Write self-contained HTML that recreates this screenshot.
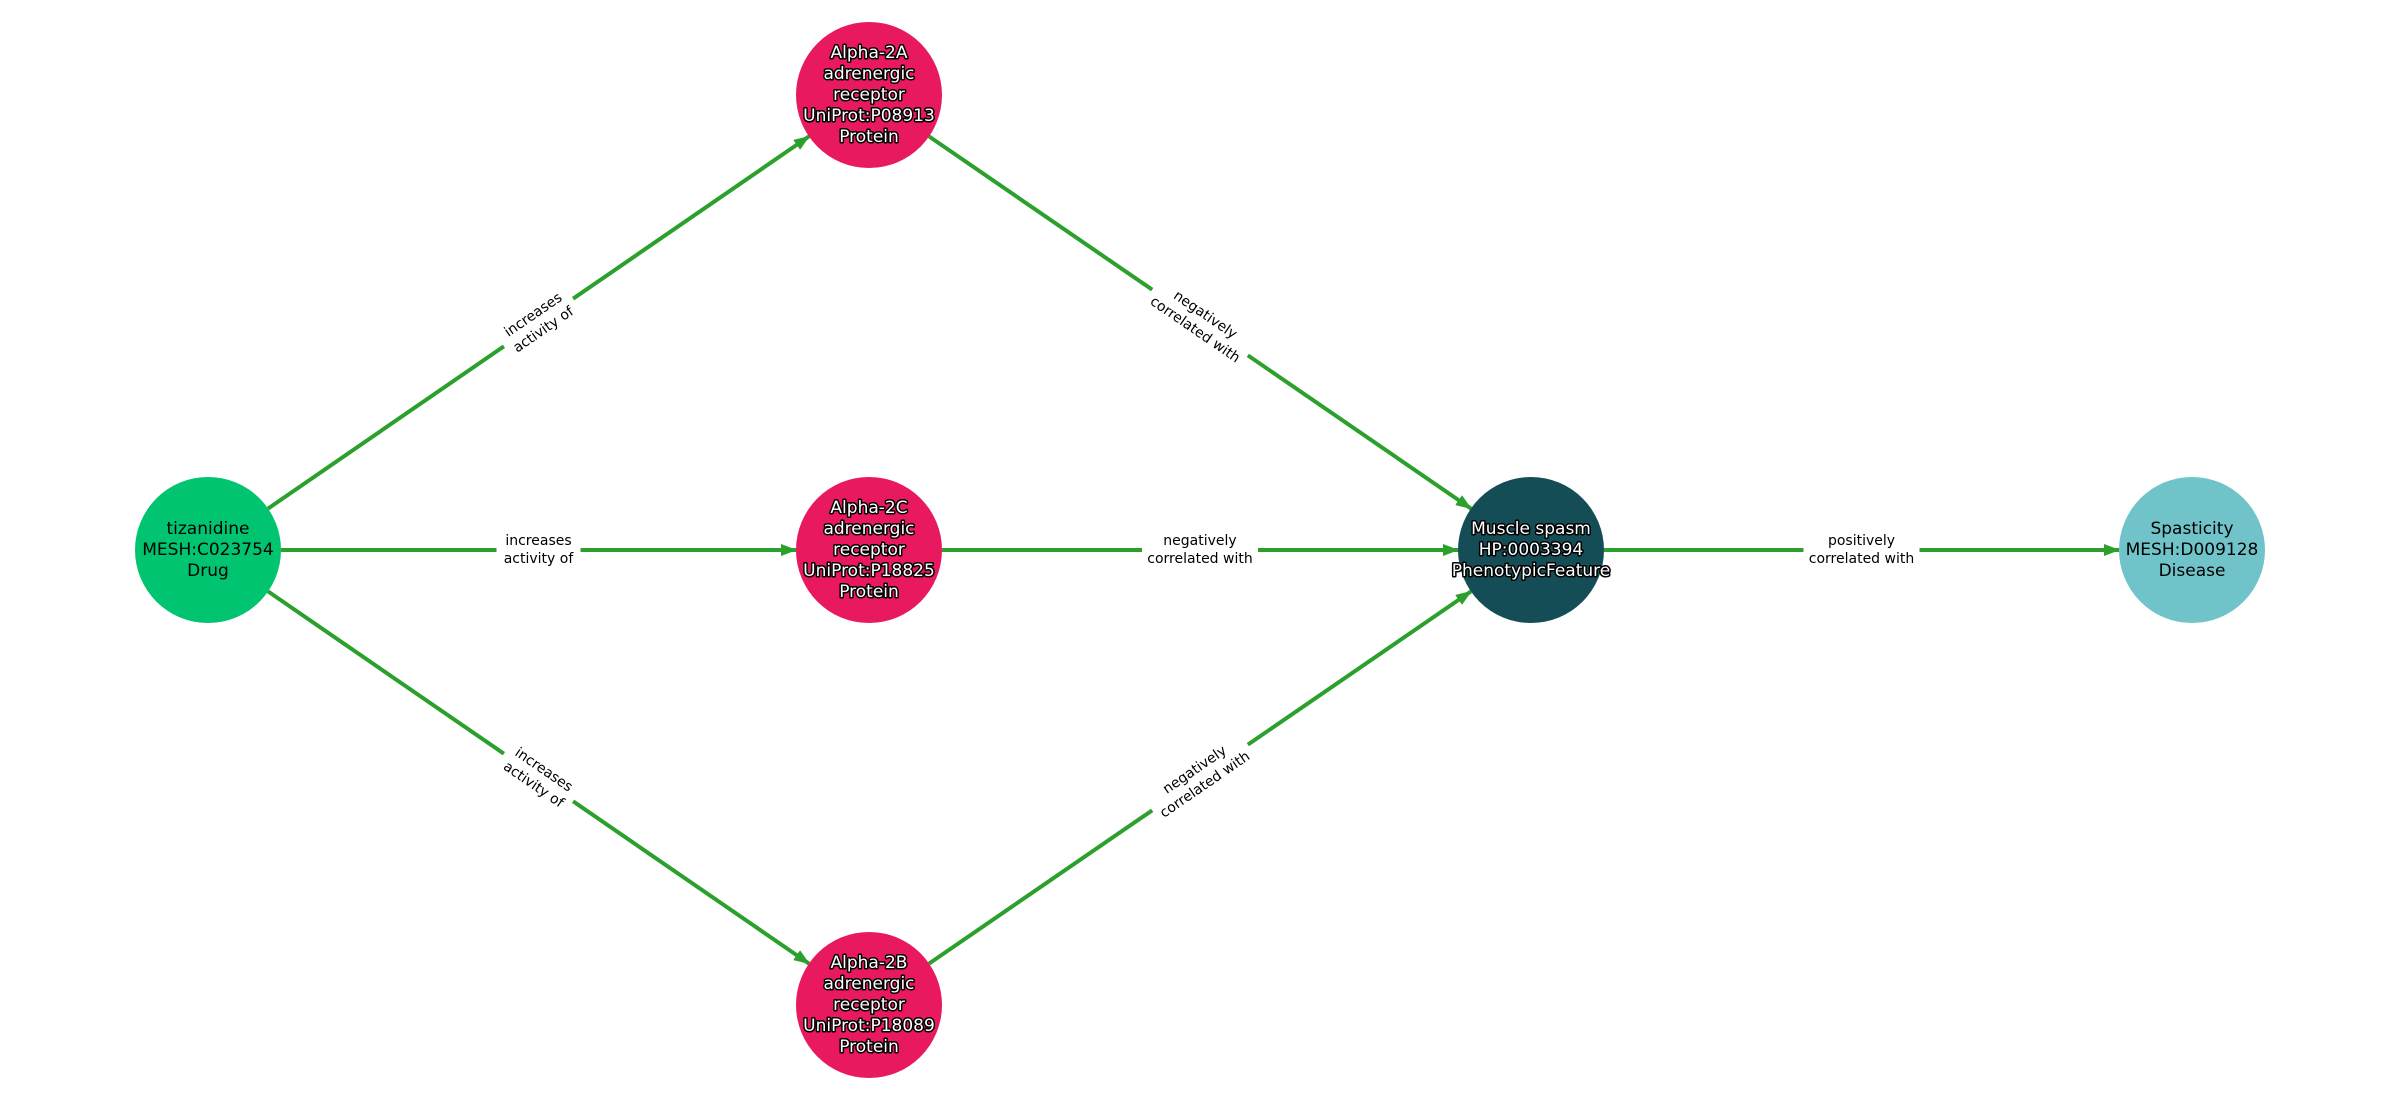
<!DOCTYPE html>
<html><head><meta charset="utf-8"><style>
html,body{margin:0;padding:0;background:#fff;}
svg{display:block;font-family:"DejaVu Sans","Liberation Sans",sans-serif;}
.nw{fill:#fff;stroke:#000;stroke-width:3px;paint-order:stroke;stroke-linejoin:round;font-size:17px;}
.nb{fill:#000;font-size:17px;}
.el{fill:#000;font-size:14px;}
.e{stroke:#2ca02c;stroke-width:4;fill:none;marker-end:url(#ah);}
</style></head><body>
<svg width="2400" height="1100" viewBox="0 0 2400 1100" xmlns="http://www.w3.org/2000/svg">
<defs><marker id="ah" markerUnits="userSpaceOnUse" markerWidth="16" markerHeight="12" refX="15" refY="6" orient="auto"><path d="M0,0 L16,6 L0,12 z" fill="#2ca02c"/></marker></defs>
<line class="e" x1="268" y1="508.6" x2="809" y2="136.4"/>
<line class="e" x1="281" y1="550" x2="796" y2="550"/>
<line class="e" x1="268" y1="591.4" x2="809" y2="963.6"/>
<line class="e" x1="929" y1="136.4" x2="1471" y2="508.6"/>
<line class="e" x1="942" y1="550" x2="1458" y2="550"/>
<line class="e" x1="929" y1="963.6" x2="1471" y2="591.4"/>
<line class="e" x1="1604" y1="550" x2="2119" y2="550"/>
<g text-anchor="middle" dominant-baseline="middle">
<g transform="translate(538.5,322.5) rotate(-34.5)"><rect x="-42" y="-20" width="84" height="40" fill="#fff"/><text class="el" y="-9">increases</text><text class="el" y="9">activity of</text></g>
<g transform="translate(538.5,550)"><rect x="-42" y="-20" width="84" height="40" fill="#fff"/><text class="el" y="-9">increases</text><text class="el" y="9">activity of</text></g>
<g transform="translate(538.5,777.5) rotate(34.5)"><rect x="-42" y="-20" width="84" height="40" fill="#fff"/><text class="el" y="-9">increases</text><text class="el" y="9">activity of</text></g>
<g transform="translate(1200,322.5) rotate(34.5)"><rect x="-58" y="-20" width="116" height="40" fill="#fff"/><text class="el" y="-9">negatively</text><text class="el" y="9">correlated with</text></g>
<g transform="translate(1200,550)"><rect x="-58" y="-20" width="116" height="40" fill="#fff"/><text class="el" y="-9">negatively</text><text class="el" y="9">correlated with</text></g>
<g transform="translate(1200,777.5) rotate(-34.5)"><rect x="-58" y="-20" width="116" height="40" fill="#fff"/><text class="el" y="-9">negatively</text><text class="el" y="9">correlated with</text></g>
<g transform="translate(1861.5,550)"><rect x="-58" y="-20" width="116" height="40" fill="#fff"/><text class="el" y="-9">positively</text><text class="el" y="9">correlated with</text></g>

<circle cx="208" cy="550" r="73" fill="#00c470"/>
<text class="nb" x="208" y="529">tizanidine</text><text class="nb" x="208" y="550">MESH:C023754</text><text class="nb" x="208" y="571">Drug</text>

<circle cx="869" cy="95" r="73" fill="#e8195f"/>
<text class="nw" x="869" y="53">Alpha-2A</text><text class="nw" x="869" y="74">adrenergic</text><text class="nw" x="869" y="95">receptor</text><text class="nw" x="869" y="116">UniProt:P08913</text><text class="nw" x="869" y="137">Protein</text>

<circle cx="869" cy="550" r="73" fill="#e8195f"/>
<text class="nw" x="869" y="508">Alpha-2C</text><text class="nw" x="869" y="529">adrenergic</text><text class="nw" x="869" y="550">receptor</text><text class="nw" x="869" y="571">UniProt:P18825</text><text class="nw" x="869" y="592">Protein</text>

<circle cx="869" cy="1005" r="73" fill="#e8195f"/>
<text class="nw" x="869" y="963">Alpha-2B</text><text class="nw" x="869" y="984">adrenergic</text><text class="nw" x="869" y="1005">receptor</text><text class="nw" x="869" y="1026">UniProt:P18089</text><text class="nw" x="869" y="1047">Protein</text>

<circle cx="1531" cy="550" r="73" fill="#154d57"/>
<text class="nw" x="1531" y="529">Muscle spasm</text><text class="nw" x="1531" y="550">HP:0003394</text><text class="nw" x="1531" y="571">PhenotypicFeature</text>

<circle cx="2192" cy="550" r="73" fill="#70c4c9"/>
<text class="nb" x="2192" y="529">Spasticity</text><text class="nb" x="2192" y="550">MESH:D009128</text><text class="nb" x="2192" y="571">Disease</text>
</g>
</svg>
</body></html>
